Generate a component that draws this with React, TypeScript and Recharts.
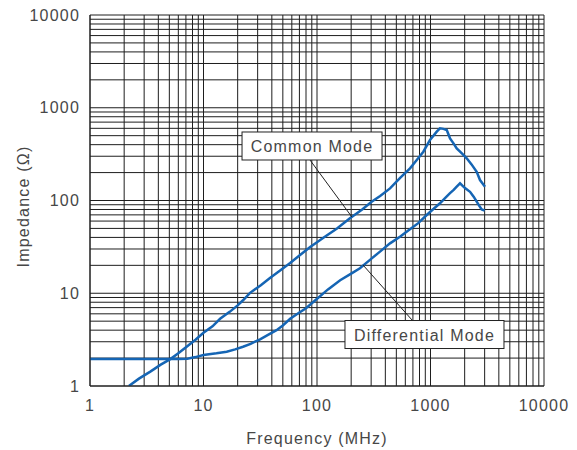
import { LineChart, Line, XAxis, YAxis, CartesianGrid, ReferenceLine, ReferenceDot } from "recharts"

// Common mode impedance (Ohm) vs frequency (MHz)
const CM_FREQ = [2.2, 2.7, 3.4, 4.2, 5.1, 6.0, 7.1, 8.5, 10, 12, 14, 17, 20, 22.3, 25.7, 32, 38.5, 47, 58, 70, 87, 100, 113, 150, 195, 250, 303, 360, 440, 540, 660, 760, 865, 990, 1135, 1212, 1300, 1390, 1486, 1600, 1702, 1900, 2084, 2300, 2553, 2730, 3020]
const CM_Z = [1.0, 1.2, 1.43, 1.7, 1.95, 2.25, 2.65, 3.15, 3.75, 4.4, 5.3, 6.3, 7.4, 8.4, 10.1, 12.2, 14.6, 17.5, 21.2, 25.5, 31.5, 35.5, 39.5, 50, 64.3, 80, 97, 112, 135, 175, 222, 275, 336, 449, 552, 600, 592, 575, 468, 410, 365, 320, 285, 245, 204, 166, 141]

// Differential mode impedance
const DM_FREQ = [1, 1.5, 2, 3, 4, 5, 6, 7.2, 8.5, 10, 13, 16, 19, 22.3, 26, 31.5, 37, 44, 50, 58, 70, 80, 99, 125, 160, 200, 239, 300, 359, 440, 538, 659, 780, 926, 1060, 1212, 1350, 1486, 1600, 1702, 1820, 2000, 2230, 2400, 2553, 2700, 2825, 3000]
const DM_Z = [1.95, 1.95, 1.95, 1.95, 1.95, 1.96, 1.96, 1.97, 2.05, 2.16, 2.25, 2.34, 2.48, 2.65, 2.85, 3.19, 3.55, 4.0, 4.5, 5.3, 6.2, 6.9, 8.6, 11, 13.8, 16.3, 18.6, 23.5, 28.1, 34.5, 40.7, 48.9, 57, 69.8, 81, 93.3, 107, 120, 130, 141, 153, 137, 124, 110, 97, 87, 80, 78]

const DECADES = [1, 10, 100, 1000]
const GRID_TICKS = [...DECADES.flatMap((d) => [1, 2, 3, 4, 5, 6, 7, 8, 9].map((k) => d * k)), 10000]
const MAJOR = [1, 10, 100, 1000, 10000]

const cmData = CM_FREQ.map((f, i) => ({ f, z: CM_Z[i] }))
const dmData = DM_FREQ.map((f, i) => ({ f, z: DM_Z[i] }))

const FONT = "'Liberation Sans', Arial, sans-serif"
const TEXT = "#474747"
const BLUE = "#1565b4"

const fmt = (v: number) => (MAJOR.includes(v) ? String(v) : "")

function LabelBox({ cx, cy, text, w }: any) {
  const h = 28
  return (
    <g>
      <rect x={cx - w / 2} y={cy - h / 2} width={w} height={h} fill="#fff" stroke="#222" strokeWidth={1} />
      <text x={cx} y={cy + 6} textAnchor="middle" fontSize={16} fontFamily={FONT} fill={TEXT} letterSpacing={1.2}>
        {text}
      </text>
    </g>
  )
}

export default function App() {
  return (
    <div style={{ position: "absolute", left: 0, top: 0, background: "#fff" }}>
      <LineChart width={577} height={450} margin={{ top: 15, right: 33, bottom: 0, left: 0 }}>
        <CartesianGrid stroke="#1e1e1e" strokeWidth={1} horizontal vertical />
        <XAxis
          dataKey="f"
          type="number"
          scale="log"
          domain={[1, 10000]}
          ticks={GRID_TICKS}
          tickFormatter={fmt}
          interval={0}
          allowDataOverflow
          height={64}
          tickLine={false}
          tickMargin={8}
          axisLine={{ stroke: "#1e1e1e" }}
          tick={{ fill: TEXT, fontSize: 16, fontFamily: FONT, letterSpacing: 1.2 }}
          label={{ value: "Frequency (MHz)", position: "center", dy: 20, fill: TEXT, fontSize: 16, fontFamily: FONT, letterSpacing: 1.2 }}
        />
        <YAxis
          dataKey="z"
          type="number"
          scale="log"
          domain={[1, 10000]}
          ticks={GRID_TICKS}
          tickFormatter={fmt}
          interval={0}
          allowDataOverflow
          width={90}
          tickLine={false}
          tickMargin={4}
          axisLine={{ stroke: "#1e1e1e" }}
          tick={{ fill: TEXT, fontSize: 16, fontFamily: FONT, letterSpacing: 1.2 }}
          label={{ value: "Impedance (Ω)", angle: -90, position: "center", dx: -22, dy: 6, fill: TEXT, fontSize: 16, fontFamily: FONT, letterSpacing: 1.2 }}
        />
        <Line data={cmData} dataKey="z" type="linear" stroke={BLUE} strokeWidth={2.5} dot={false} isAnimationActive={false} />
        <Line data={dmData} dataKey="z" type="linear" stroke={BLUE} strokeWidth={2.5} dot={false} isAnimationActive={false} />
        <ReferenceLine segment={[{ x: 86.8, y: 273 }, { x: 203, y: 66.4 }]} stroke="#222" strokeWidth={1} />
        <ReferenceLine segment={[{ x: 254, y: 20.2 }, { x: 687, y: 5.15 }]} stroke="#222" strokeWidth={1} />
        <ReferenceDot x={90.4} y={387} shape={(p: any) => <LabelBox {...p} text="Common Mode" w={140} />} />
        <ReferenceDot x={885} y={3.59} shape={(p: any) => <LabelBox {...p} text="Differential Mode" w={159} />} />
      </LineChart>
    </div>
  )
}
